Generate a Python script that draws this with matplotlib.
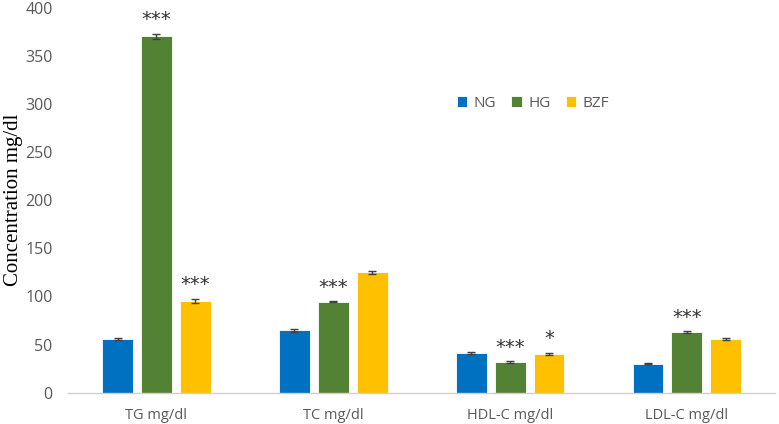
import numpy as np
import matplotlib.pyplot as plt

categories = ["TG mg/dl", "TC mg/dl", "HDL-C mg/dl", "LDL-C mg/dl"]
groups = ["NG", "HG", "BZF"]
ng_vals = [55.5, 64.8, 41.6, 30.1]
hg_vals = [370.0, 94.5, 31.9, 62.7]
bzf_vals = [95.3, 125.0, 40.2, 56.0]
ng_err = [0.8, 1.5, 1.0, 0.8]
hg_err = [3.0, 0.8, 0.8, 1.2]
bzf_err = [2.5, 1.8, 1.5, 1.2]
ng_sig = ["", "", "", ""]
hg_sig = ["***", "***", "***", "***"]
bzf_sig = ["***", "", "*", ""]

colors = ["#0070C0", "#548235", "#FFC000"]
text_col = "#595959"

fig = plt.figure(figsize=(7.79, 4.24), dpi=100)
ax = fig.add_axes([0.0873, 0.0738, 0.908, 0.9085])

x = np.arange(len(categories))
width = 0.175
step = 0.22
series = [(ng_vals, ng_err, ng_sig), (hg_vals, hg_err, hg_sig), (bzf_vals, bzf_err, bzf_sig)]

for i, (vals, errs, sigs) in enumerate(series):
    pos = x + (i - 1) * step
    ax.bar(pos, vals, width, color=colors[i], edgecolor="white", linewidth=0.6,
           label=groups[i], zorder=2)
    ax.errorbar(pos, vals, yerr=errs, fmt="none", ecolor="#404040",
                elinewidth=1.0, capsize=3, capthick=1.0, zorder=3)
    for p, v, e, s in zip(pos, vals, errs, sigs):
        if s:
            ax.annotate(s, (p, v + e), xytext=(0, 10), textcoords="offset points",
                        ha="center", va="center", fontsize=14, color="#333333")

ax.set_xlim(-0.5, len(categories) - 0.5)
ax.set_ylim(0, 400)
ax.set_yticks(np.arange(0, 401, 50))
ax.set_xticks(x)
ax.set_xticklabels(categories, fontsize=10.5, color=text_col, family="Open Sans")
for lab in ax.get_yticklabels():
    lab.set_fontsize(11.5)
    lab.set_color(text_col)
    lab.set_family("Open Sans")
ax.tick_params(axis="x", length=0, pad=11)
ax.tick_params(axis="y", length=0, pad=11)

for side in ["top", "right", "left"]:
    ax.spines[side].set_visible(False)
ax.spines["bottom"].set_color("#D0D0D0")
ax.spines["bottom"].set_linewidth(1.0)

ax.set_ylabel("Concentration mg/dl", fontsize=15, family="Liberation Serif",
              color="black", labelpad=2)

fig.legend(loc="center", bbox_to_anchor=(0.684, 0.757), ncol=3, frameon=False,
           handlelength=0.7, handleheight=0.7, handletextpad=0.4, columnspacing=1.0,
           prop={"family": "Open Sans", "size": 11}, labelcolor=text_col)

fig.savefig("out.png", dpi=100)
